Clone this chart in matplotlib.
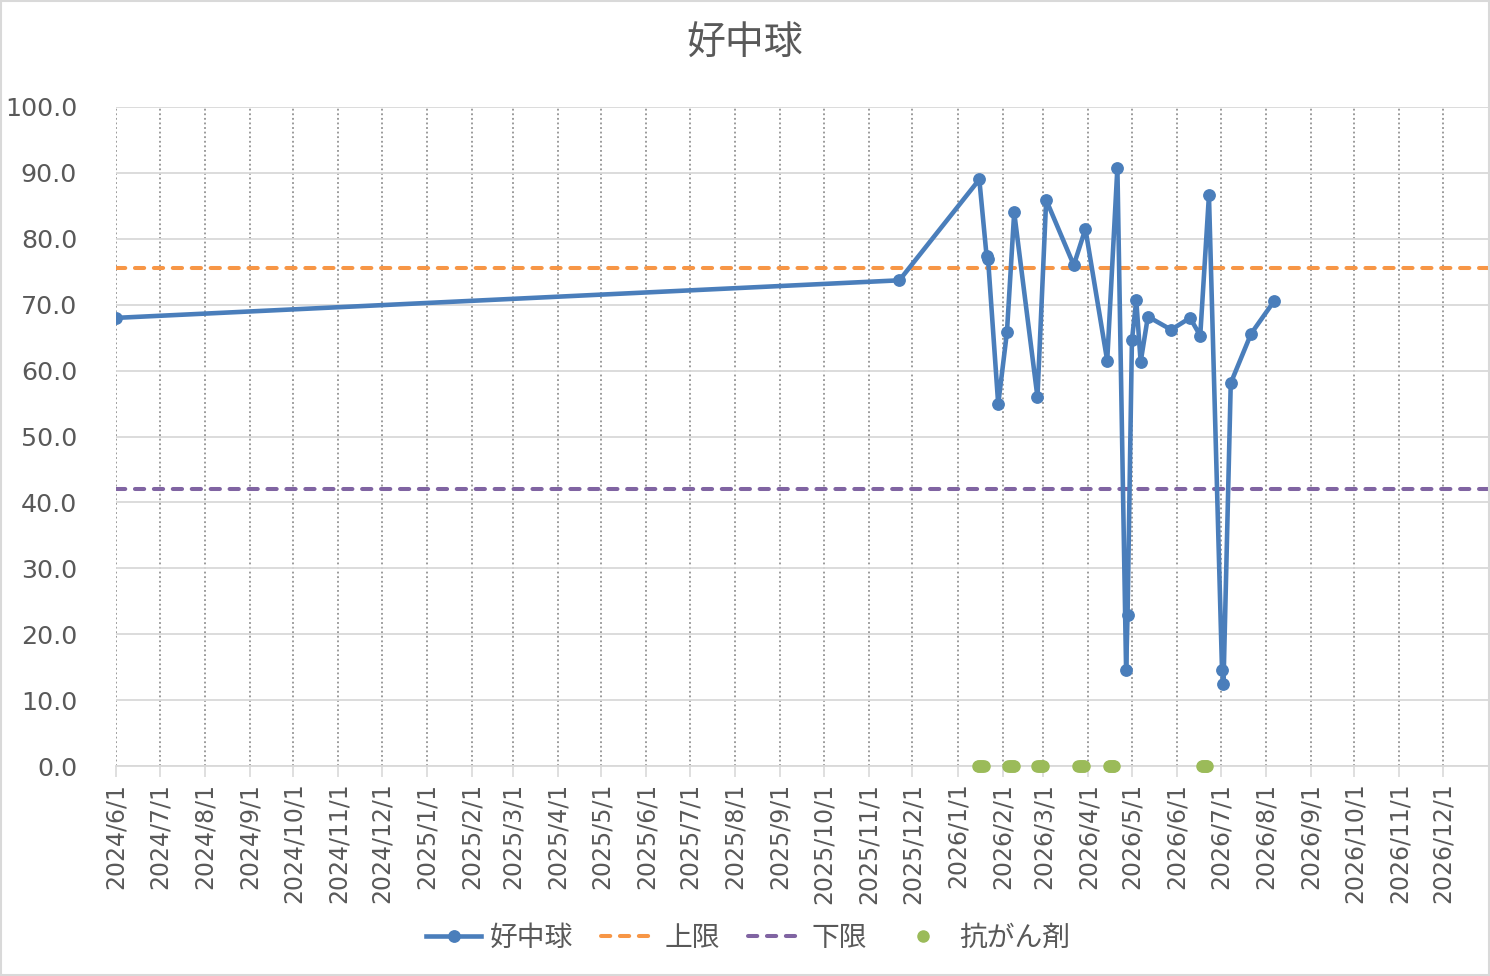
import matplotlib
matplotlib.use("Agg")
import matplotlib.pyplot as plt
import matplotlib.dates as mdates
import matplotlib.ticker as mticker
import pandas as pd
from matplotlib.lines import Line2D
from matplotlib.patches import Rectangle

plt.rcParams['font.family'] = ['DejaVu Sans', 'Noto Sans CJK JP']

title = "好中球"
series_name = "好中球"
upper_name = "上限"
lower_name = "下限"
chemo_name = "抗がん剤"

dates = ["2024-06-01", "2025-11-22", "2026-01-16", "2026-01-21", "2026-01-22",
         "2026-01-29", "2026-02-04", "2026-02-09", "2026-02-25", "2026-03-03",
         "2026-03-22", "2026-03-30", "2026-04-14", "2026-04-21", "2026-04-27",
         "2026-04-28", "2026-05-01", "2026-05-04", "2026-05-07", "2026-05-12",
         "2026-05-28", "2026-06-10", "2026-06-17", "2026-06-23", "2026-07-02",
         "2026-07-03", "2026-07-08", "2026-07-22", "2026-08-07"]
values = [68.0, 73.7, 89.0, 77.4, 77.0,
          54.9, 65.8, 84.0, 56.0, 85.9,
          76.0, 81.5, 61.5, 90.8, 14.5,
          22.9, 64.6, 70.7, 61.3, 68.2,
          66.2, 68.0, 65.3, 86.6, 14.5,
          12.4, 58.1, 65.6, 70.6]

upper_limit = 75.6
lower_limit = 42.0

chemo_dates = ["2026-01-15", "2026-01-16", "2026-01-17", "2026-01-18", "2026-01-19",
               "2026-02-05", "2026-02-06", "2026-02-07", "2026-02-08", "2026-02-09",
               "2026-02-25", "2026-02-26", "2026-02-27", "2026-02-28", "2026-03-01",
               "2026-03-25", "2026-03-26", "2026-03-27", "2026-03-28", "2026-03-29",
               "2026-04-15", "2026-04-16", "2026-04-17", "2026-04-18", "2026-04-19",
               "2026-06-18", "2026-06-19", "2026-06-20", "2026-06-21", "2026-06-22"]
chemo_values = [0.0] * len(chemo_dates)

x_start = "2024-06-01"
x_end = "2027-01-01"
tick_months = pd.date_range("2024-06-01", "2026-12-01", freq="MS")
tick_labels = [f"{d.year}/{d.month}/{d.day}" for d in tick_months]
y_ticks = [0, 10, 20, 30, 40, 50, 60, 70, 80, 90, 100]

blue = "#4A7EBB"
orange = "#F79646"
purple = "#8064A2"
green = "#9BBB59"
text_gray = "#595959"

fig = plt.figure(figsize=(14.9, 9.76), dpi=100)
ax = fig.add_axes([116/1490, 1 - 766/976, (1488 - 116)/1490, (766 - 107)/976])

x = pd.to_datetime(dates)
cx = pd.to_datetime(chemo_dates)
xs, xe = pd.Timestamp(x_start), pd.Timestamp(x_end)

dash_kw = dict(lw=2.9, dashes=(2.3, 2.4), dash_capstyle='round')

ax.plot(x, values, color=blue, lw=3.3, marker='o', ms=8.2, zorder=4,
        solid_joinstyle='round')
ax.plot([xs, xe], [upper_limit, upper_limit], color=orange, zorder=3, **dash_kw)
ax.plot([xs, xe], [lower_limit, lower_limit], color=purple, zorder=3, **dash_kw)
ax.plot(cx, chemo_values, ls='none', marker='o', ms=8, color=green,
        zorder=5, clip_on=False)

ax.set_xlim(xs, xe)
ax.set_ylim(0, 100)
ax.set_yticks(y_ticks)
ax.yaxis.set_major_formatter(mticker.FormatStrFormatter('%.1f'))

ax.set_xticks(tick_months)
ax.set_xticklabels(tick_labels)
ax.tick_params(axis='x', rotation=90, labelsize=17, colors=text_gray,
               length=8, width=1.2, color="#d9d9d9", pad=4)
ax.tick_params(axis='y', labelsize=18.3, colors=text_gray, length=0, pad=28)

ax.grid(axis='y', color="#d9d9d9", lw=1.3, ls='-')
ax.grid(axis='x', color="#808080", lw=1.1, ls=(0, (1.2, 1.8)))
ax.set_axisbelow(True)
for s in ['top', 'right', 'left']:
    ax.spines[s].set_visible(False)
ax.spines['bottom'].set_color("#d9d9d9")
ax.spines['bottom'].set_linewidth(1.3)

fig.text(745/1490, 1 - 44/976, title, ha='center', va='center',
         fontsize=28, color=text_gray)

handles = [
    Line2D([], [], color=blue, lw=3.3, marker='o', ms=8.2),
    Line2D([], [], color=orange, **dash_kw),
    Line2D([], [], color=purple, **dash_kw),
    Line2D([], [], ls='none', marker='o', ms=8, color=green),
]
leg = fig.legend(handles, [series_name, upper_name, lower_name, chemo_name],
                 loc='center', bbox_to_anchor=(748/1490, 1 - 938/976), ncol=4,
                 frameon=False, fontsize=20, handlelength=2.0, handletextpad=0.3,
                 columnspacing=1.0, labelcolor=text_gray)

fig.add_artist(Rectangle((0.001, 0.001), 0.998, 0.998, transform=fig.transFigure,
                         fill=False, edgecolor="#d9d9d9", lw=1.5))

fig.savefig("out.png", dpi=100)
